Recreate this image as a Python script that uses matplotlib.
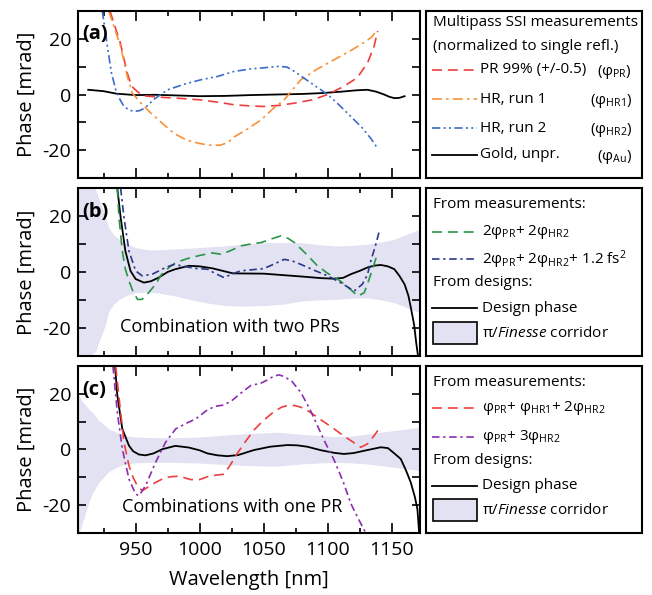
import matplotlib
matplotlib.use("Agg")
import matplotlib.pyplot as plt
from matplotlib.patches import Rectangle
from matplotlib.ticker import MultipleLocator

plt.rcParams['font.family'] = ['Open Sans', 'DejaVu Sans']
plt.rcParams['mathtext.fontset'] = 'custom'
plt.rcParams['mathtext.rm'] = 'Open Sans'
plt.rcParams['mathtext.it'] = 'Open Sans:italic'
plt.rcParams['mathtext.bf'] = 'Open Sans:bold'

# ---- panel (a): multipass SSI measurements ----
pr_wl = [930, 938, 943.5, 947, 952, 957, 970, 985, 1000, 1015, 1027, 1040, 1050,
         1062, 1074, 1088, 1100, 1112, 1123, 1131, 1136, 1139]
pr = [30, 18.6, 7.7, 2.9, 0.8, -0.5, -1.0, -1.4, -1.9, -2.8, -3.7, -4.1, -4.3,
      -3.9, -3.1, -1.9, 0, 2.8, 6.0, 11.3, 17, 22.8]

hr1_wl = [929, 938.3, 943.5, 947.4, 955, 962, 970, 980, 990, 1000, 1008, 1016, 1022,
          1027, 1037, 1048, 1057, 1066, 1079, 1092, 1105, 1117, 1128, 1134, 1138]
hr1 = [30, 17.3, 6.5, 0.5, -3.5, -6.7, -10, -14, -16.4, -17.6, -18.2, -18.2, -17.3,
       -15.2, -12.5, -9.1, -5.2, -1.9, 5.3, 9.2, 12.5, 15.5, 18.6, 20.5, 22.8]

hr2_wl = [924, 928, 931, 934.5, 938, 941, 945, 949, 953, 957, 965, 975, 988, 1001,
          1014, 1027, 1040, 1050, 1061, 1068, 1074, 1087, 1100, 1109, 1118, 1127,
          1134, 1139]
hr2 = [30, 17.3, 8, 1.7, -2, -4.3, -5.6, -6.1, -5.8, -4.9, -1.5, 1.7, 3.7, 5.3,
       6.5, 8.3, 9.2, 9.6, 10.1, 9.9, 8.3, 4.1, 0, -3.8, -7.9, -12, -16, -19.4]

gold_wl = [913, 925, 935, 950, 965, 980, 1000, 1020, 1040, 1060, 1080, 1095, 1110,
           1122, 1131, 1138, 1144, 1148, 1152, 1156, 1160]
gold = [1.7, 1.2, 0.3, -0.2, -0.1, -0.3, -0.6, -0.5, -0.2, 0, 0.2, 0.5, 1.0,
        1.5, 1.7, 1.0, 0, -0.8, -1.3, -1.2, -0.6]

# ---- panel (b): combination with two PRs ----
design_b_wl = [935.7, 938.3, 942, 946, 950, 956.5, 962, 968, 975, 981, 991.6, 1000,
               1010, 1026, 1050, 1079, 1095, 1105, 1112, 1118, 1125, 1131, 1137,
               1141.5, 1147, 1152, 1156, 1160, 1163, 1165, 1167.5, 1169, 1170.5]
design_b = [30, 19.5, 7.5, 0.4, -2.5, -3.8, -3.3, -2.0, 0, 1.0, 2.2, 2.0,
            1.3, -0.5, -0.6, -1.6, -2.2, -2.4, -2.1, -0.8, 0.4, 1.6, 2.3,
            2.5, 2.0, 1.0, -1.4, -4.4, -8.5, -13, -19, -25, -30]

green_wl = [935.7, 937, 939.6, 942, 944.8, 948, 951.5, 955, 959, 965.6, 970, 976,
            982, 992, 1001, 1010, 1017, 1025, 1032, 1040, 1048, 1056, 1063.5, 1069,
            1074, 1083, 1092, 1100, 1108, 1116, 1123.5, 1128.5, 1132, 1136, 1139]
green = [30, 19.5, 7.5, 1, -3.2, -7, -9.8, -9.8, -8, -4.4, -1, 1.6,
         3.5, 5, 6.0, 6.8, 6.3, 7.8, 9.3, 10, 10.5, 11.8, 12.9, 12,
         10.5, 6.5, 2.2, -0.5, -2.6, -5.5, -8.6, -7.4, -3, 2.5, 6.9]

navy_wl = [938.3, 940.9, 944.8, 950, 955.2, 963, 973.4, 980, 988, 996, 1006, 1012,
           1019, 1026, 1032, 1041, 1050, 1058, 1066, 1072, 1079, 1090, 1100, 1110,
           1120.6, 1127, 1131, 1133.6, 1137, 1140]
navy = [30, 19.5, 7.5, 0.4, -1.4, -0.8, 1.6, 2.7, 2.0, 1.3, 1.0, -0.5,
        -2.0, -0.6, 0.4, 0.8, 1.2, 2.8, 4.5, 4.0, 2.7, 0.5, -1.4, -3.8,
        -6.8, -4.4, -1, 3.9, 9, 14.1]

corr_b_wl = [905, 912, 918.8, 923, 926.6, 929, 933, 937, 943, 950, 960, 968, 980,
             992, 1005, 1020, 1035, 1050, 1065, 1079, 1092, 1105, 1118, 1131, 1142,
             1152, 1162, 1172]
corr_b_hi = [33, 31, 29.5, 24, 19.5, 15.9, 13.2, 11.7, 10, 8.7, 7.9, 7.9, 8.2,
             8.5, 8.9, 9.3, 10, 10.5, 10.5, 10.5, 9.8, 9.3, 9.4, 9.9, 10.7,
             11.7, 13.5, 15.3]
corr_b_lo = [-33, -31, -28.3, -23, -18.7, -14, -11.5, -9.8, -8.4, -7.4, -7.2, -7.5,
             -8.5, -9.8, -11, -12, -12.2, -12, -11.5, -10.4, -10, -9.8, -9.4, -9.2,
             -10, -11, -12.8, -14.6]

# ---- panel (c): combinations with one PR ----
design_c_wl = [933.9, 935.7, 939.6, 944.8, 948, 952.6, 957.8, 964, 970.8, 981,
               991.6, 1000, 1006, 1014, 1021.6, 1030, 1042.4, 1055, 1068.5, 1076,
               1084, 1095, 1105, 1112.5, 1120, 1131, 1141.4, 1147, 1152, 1157,
               1161, 1164.8, 1168, 1170, 1171.4]
design_c = [30, 19.5, 7.4, 1.4, -0.6, -1.8, -2.1, -1.4, 0.1, 1.3,
            0.7, -0.3, -1.4, -2.1, -2.4, -2.0, -0.2, 1.0, 1.6, 1.5,
            1.0, -0.3, -1.2, -1.6, -1.3, -0.2, 0.8, 0.5, -1.4, -3.4,
            -7.4, -11.8, -17, -21.4, -30]

red_c_wl = [934.4, 938.3, 940.9, 944.8, 948, 951.3, 955.2, 960.4, 965, 970.8, 977,
            984, 993, 1000, 1006, 1013, 1019, 1024, 1029.4, 1036, 1042.4, 1050,
            1058, 1064, 1068.5, 1074, 1079, 1086, 1092, 1100, 1105, 1112, 1118,
            1125.8, 1131, 1136, 1140]
red_c = [30, 13.4, 2.6, -5.8, -10, -13, -14.8, -13.3, -12, -10.6, -9.8,
         -9.6, -10.8, -10.8, -9.8, -9.2, -8.9, -5.5, -1.4, 3, 7, 10.5,
         13.6, 15.2, 15.8, 15.8, 15.2, 13.5, 11.5, 9, 7.4, 5, 3.2,
         0.8, 2, 4.8, 7.4]

purple_wl = [932.3, 935.7, 939.6, 944.8, 950, 952.6, 957.8, 965.6, 973.4, 981.3,
             990, 997, 1006, 1012, 1019, 1025, 1032, 1040, 1047.7, 1053, 1058,
             1062, 1066, 1072, 1079, 1086, 1092, 1098, 1105, 1112, 1118, 1124,
             1129.7]
purple = [30, 13.4, 0.2, -10.6, -16, -16.6, -13, -4.6, 2.6, 7.4,
          9.5, 11, 14.2, 15.5, 16, 17.5, 20.2, 23, 23.8, 25, 26.4,
          26.8, 26.2, 24.5, 20.5, 14.5, 8.5, 2.5, -3.8, -11.5, -19.4, -25,
          -30]

corr_c_wl = [905, 908, 913.5, 916, 921.3, 929, 936, 942, 950, 960, 975, 997, 1020,
             1040, 1060, 1079, 1095, 1105, 1118, 1131, 1142, 1152, 1162, 1172]
corr_c_hi = [20, 17.5, 14.5, 13.4, 10.5, 7.4, 6, 5, 4.5, 4.3, 4.2, 4.4, 5.2,
             5.8, 6.2, 5.5, 5, 4.6, 4.8, 5.6, 6.2, 6.8, 7.4, 8]
corr_c_lo = [-31, -27, -19, -16, -11.8, -8, -6.2, -5.2, -4.8, -4.6, -4.6, -4.8,
             -5.4, -5.8, -6.0, -5.2, -4.8, -4.6, -4.8, -5.2, -5.8, -6.4, -7.0,
             -7.6]

RED = '#ef3e3e'
ORANGE = '#f7923a'
BLUE = '#3a6cc8'
GREEN = '#2a9548'
NAVY = '#2b3888'
PURPLE = '#8a2eae'
LAV = '#e2e2f2'

DASH = (0, (6, 3.5))
DASHDOT = (0, (6, 2.5, 1.5, 2.5))
DASHDOTDOT = (0, (5, 2, 1.2, 2, 1.2, 2))
DASHDOT2 = (0, (4.5, 2.2, 1.4, 2.2))

fig = plt.figure(figsize=(6.52, 5.95), dpi=100)

left, width = 0.1196, 0.5245
lleft, lwidth = 0.6534, 0.3313
rows = [(0.7008, 0.2807), (0.4017, 0.2824), (0.1042, 0.2807)]

axes = []
legs = []
for bottom, height in rows:
    ax = fig.add_axes([left, bottom, width, height])
    lax = fig.add_axes([lleft, bottom, lwidth, height])
    for a in (ax, lax):
        for s in a.spines.values():
            s.set_linewidth(1.5)
    ax.set_xlim(905, 1172)
    ax.set_ylim(-30, 30)
    ax.xaxis.set_major_locator(MultipleLocator(50))
    ax.xaxis.set_minor_locator(MultipleLocator(25))
    ax.yaxis.set_major_locator(MultipleLocator(20))
    ax.yaxis.set_minor_locator(MultipleLocator(10))
    ax.tick_params(which='both', direction='in', top=True, right=True, width=1.2,
                   labelsize=14)
    ax.tick_params(axis='x', which='major', length=7, pad=6)
    ax.tick_params(axis='x', which='minor', length=3.5)
    ax.tick_params(axis='y', which='both', length=6, pad=5)
    ax.set_yticks([-20, 0, 20], ['-20', '0', '20'])
    ax.set_ylabel('Phase [mrad]', fontsize=14.5, labelpad=4)
    lax.set_xlim(0, 1)
    lax.set_ylim(0, 1)
    lax.set_xticks([])
    lax.set_yticks([])
    axes.append(ax)
    legs.append(lax)

ax_a, ax_b, ax_c = axes
leg_a, leg_b, leg_c = legs
for ax in (ax_a, ax_b):
    ax.tick_params(axis='x', which='both', labelbottom=False)
ax_c.set_xlabel('Wavelength [nm]', fontsize=14.5, labelpad=8)

# panel (a)
ax_a.plot(gold_wl, gold, color='black', lw=1.3)
ax_a.plot(pr_wl, pr, color=RED, lw=1.2, ls=DASH)
ax_a.plot(hr1_wl, hr1, color=ORANGE, lw=1.2, ls=DASHDOT)
ax_a.plot(hr2_wl, hr2, color=BLUE, lw=1.2, ls=DASHDOTDOT)
ax_a.text(0.013, 0.865, '(a)', transform=ax_a.transAxes, fontsize=14.5,
          fontweight='bold', va='center')

# panel (b)
ax_b.fill_between(corr_b_wl, corr_b_lo, corr_b_hi, color=LAV, lw=0)
ax_b.plot(design_b_wl, design_b, color='black', lw=1.3)
ax_b.plot(green_wl, green, color=GREEN, lw=1.2, ls=DASH)
ax_b.plot(navy_wl, navy, color=NAVY, lw=1.2, ls=DASHDOT2)
ax_b.text(0.013, 0.854, '(b)', transform=ax_b.transAxes, fontsize=14.5,
          fontweight='bold', va='center')
ax_b.text(0.123, 0.17, 'Combination with two PRs', transform=ax_b.transAxes,
          fontsize=13, va='center')

# panel (c)
ax_c.fill_between(corr_c_wl, corr_c_lo, corr_c_hi, color=LAV, lw=0)
ax_c.plot(design_c_wl, design_c, color='black', lw=1.3)
ax_c.plot(red_c_wl, red_c, color=RED, lw=1.2, ls=DASH)
ax_c.plot(purple_wl, purple, color=PURPLE, lw=1.2, ls=DASHDOT2)
ax_c.text(0.013, 0.854, '(c)', transform=ax_c.transAxes, fontsize=14.5,
          fontweight='bold', va='center')
ax_c.text(0.128, 0.153, 'Combinations with one PR', transform=ax_c.transAxes,
          fontsize=13, va='center')

# legend boxes (drawn by hand)
FS = 11
X0, X1, XT = 0.028, 0.236, 0.25


def sample(lax, y, **kw):
    lax.plot([X0, X1], [y, y], **kw)


leg_a.text(0.031, 0.93, 'Multipass SSI measurements', fontsize=FS, va='center')
leg_a.text(0.031, 0.786, '(normalized to single refl.)', fontsize=FS, va='center')
rows_a = [
    (0.647, 'PR 99% (+/-0.5)', r'(φ$_{\mathrm{PR}}$)', dict(color=RED, lw=1.2, ls=DASH)),
    (0.471, 'HR, run 1', r'(φ$_{\mathrm{HR1}}$)', dict(color=ORANGE, lw=1.2, ls=DASHDOT)),
    (0.298, 'HR, run 2', r'(φ$_{\mathrm{HR2}}$)', dict(color=BLUE, lw=1.2, ls=DASHDOTDOT)),
    (0.138, 'Gold, unpr.', r'(φ$_{\mathrm{Au}}$)', dict(color='black', lw=1.3)),
]
for y, label, sym, style in rows_a:
    sample(leg_a, y, **style)
    leg_a.text(XT, y, label, fontsize=FS, va='center')
    leg_a.text(0.955, y - 0.01, sym, fontsize=FS, va='center', ha='right')


def design_rows(lax):
    lax.text(0.031, 0.435, 'From designs:', fontsize=FS, va='center')
    sample(lax, 0.283, color='black', lw=1.3)
    lax.text(XT + 0.008, 0.283, 'Design phase', fontsize=FS, va='center')
    lax.add_patch(Rectangle((0.033, 0.072), X1 - 0.033, 0.13, facecolor=LAV,
                            edgecolor='black', lw=1.2))
    lax.text(XT + 0.008, 0.136, r'π/$\mathit{Finesse}$ corridor', fontsize=FS,
             va='center')


leg_b.text(0.031, 0.904, 'From measurements:', fontsize=FS, va='center')
sample(leg_b, 0.735, color=GREEN, lw=1.2, ls=DASH)
leg_b.text(XT + 0.008, 0.735, r'2φ$_{\mathrm{PR}}$+ 2φ$_{\mathrm{HR2}}$',
           fontsize=FS, va='center')
sample(leg_b, 0.575, color=NAVY, lw=1.2, ls=DASHDOT2)
leg_b.text(XT + 0.008, 0.575,
           r'2φ$_{\mathrm{PR}}$+ 2φ$_{\mathrm{HR2}}$+ 1.2 fs$^{2}$',
           fontsize=FS, va='center')
design_rows(leg_b)

leg_c.text(0.031, 0.90, 'From measurements:', fontsize=FS, va='center')
sample(leg_c, 0.747, color=RED, lw=1.2, ls=DASH)
leg_c.text(XT + 0.008, 0.747,
           r'φ$_{\mathrm{PR}}$+ φ$_{\mathrm{HR1}}$+ 2φ$_{\mathrm{HR2}}$',
           fontsize=FS, va='center')
sample(leg_c, 0.577, color=PURPLE, lw=1.2, ls=DASHDOT2)
leg_c.text(XT + 0.008, 0.577, r'φ$_{\mathrm{PR}}$+ 3φ$_{\mathrm{HR2}}$',
           fontsize=FS, va='center')
design_rows(leg_c)

fig.savefig('out.png', dpi=100)
